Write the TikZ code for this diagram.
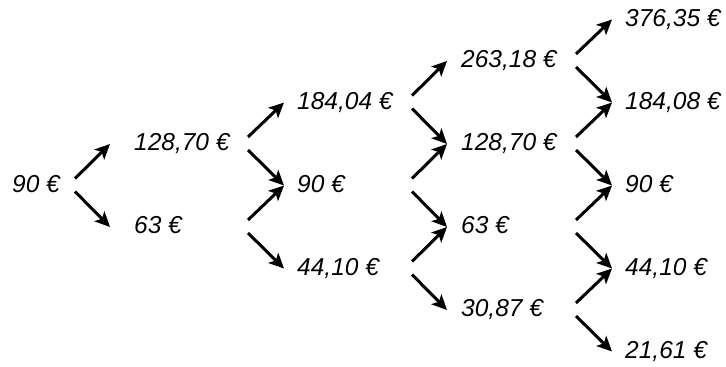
\documentclass[tikz,border=0pt]{standalone}
\usepackage{fontspec}
\setmainfont{Liberation Sans}
\usetikzlibrary{arrows.meta}
\begin{document}
\begin{tikzpicture}[x=1pt,y=-1pt,
  val/.style={anchor=base west,inner sep=0pt,font=\fontsize{24.5}{28}\selectfont\itshape},
  arr/.style={line width=3pt,-{Stealth[length=15pt,width=14pt,inset=3.5pt]}}]
\useasboundingbox (0,0) rectangle (726,367);
\foreach \x/\xs/\xt/\j/\t/\n in {
  12/75/0/4/{90 €}/a4,
  134/248/110/5/{128,70 €}/b5,
  134/248/110/3/{63 €}/b3,
  297/412/284/6/{184,04 €}/c6,
  297/412/284/4/{90 €}/c4,
  297/412/284/2/{44,10 €}/c2,
  461/576/447/7/{263,18 €}/d7,
  461/576/447/5/{128,70 €}/d5,
  461/576/447/3/{63 €}/d3,
  461/576/447/1/{30,87 €}/d1,
  625/700/612/8/{376,35 €}/e8,
  625/700/612/6/{184,08 €}/e6,
  625/700/612/4/{90 €}/e4,
  625/700/612/2/{44,10 €}/e2,
  625/700/612/0/{21,61 €}/e0}{
  \node[val] (\n) at (\x, 358-41.5*\j) {\t};
  \coordinate (\n-up) at (\xs, 344.5-41.5*\j);
  \coordinate (\n-dn) at (\xs, 357.5-41.5*\j);
  \coordinate (\n-in) at (\xt, 351.5-41.5*\j);
}
\foreach \a/\s/\b in {
  a4/up/b5, a4/dn/b3,
  b5/up/c6, b5/dn/c4, b3/up/c4, b3/dn/c2,
  c6/up/d7, c6/dn/d5, c4/up/d5, c4/dn/d3, c2/up/d3, c2/dn/d1,
  d7/up/e8, d7/dn/e6, d5/up/e6, d5/dn/e4, d3/up/e4, d3/dn/e2, d1/up/e2, d1/dn/e0}{
  \draw[arr] (\a-\s) -- (\b-in);
}
\end{tikzpicture}
\end{document}
